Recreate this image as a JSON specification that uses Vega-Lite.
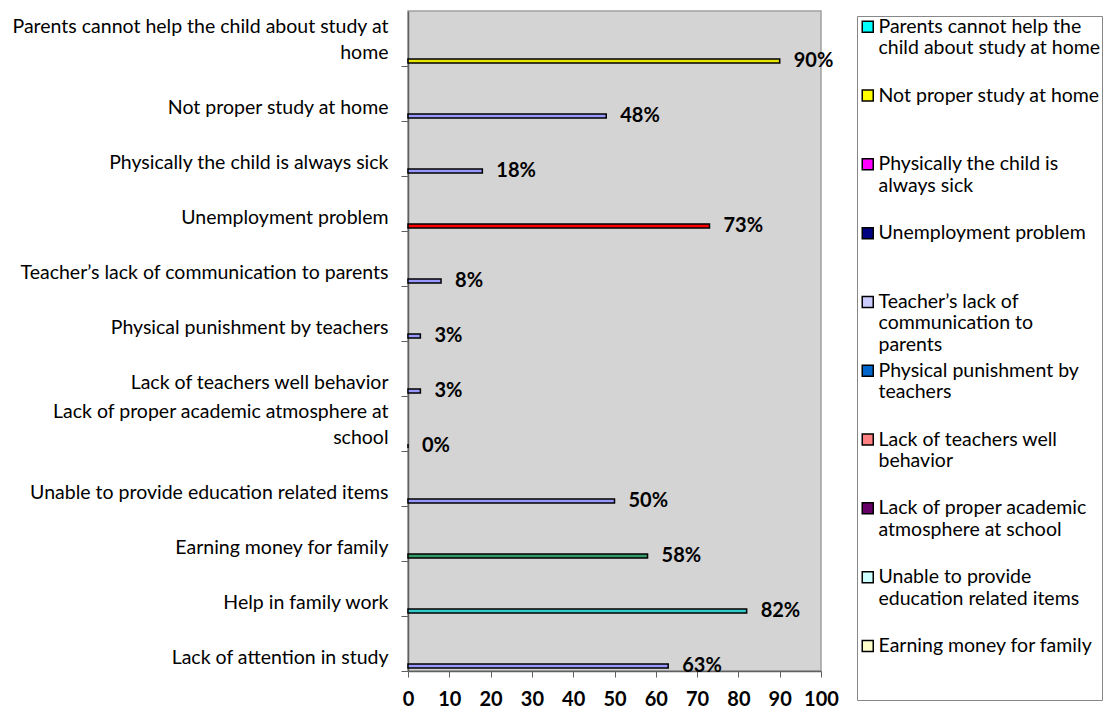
{
  "$schema": "https://vega.github.io/schema/vega-lite/v6.json",
  "autosize": "none",
  "padding": {"left": 408, "top": 11, "right": 285, "bottom": 38},
  "width": 413,
  "height": 660,
  "background": "white",
  "view": {"fill": "#d4d4d4", "stroke": "#a0a0a0", "strokeWidth": 1.5},
  "config": {
    "font": "Lato",
    "view": {"fill": "#d4d4d4", "stroke": "#a0a0a0", "strokeWidth": 1.5}
  },
  "datasets": {
    "bars": [
      {"category": "Parents cannot help the child about study at home", "value": 90, "label": "90%"},
      {"category": "Not proper study at home", "value": 48, "label": "48%"},
      {"category": "Physically the child is always sick", "value": 18, "label": "18%"},
      {"category": "Unemployment problem", "value": 73, "label": "73%"},
      {"category": "Teacher’s lack of communication to parents", "value": 8, "label": "8%"},
      {"category": "Physical punishment by teachers", "value": 3, "label": "3%"},
      {"category": "Lack of teachers well behavior", "value": 3, "label": "3%"},
      {"category": "Lack of proper academic atmosphere at school", "value": 0, "label": "0%"},
      {"category": "Unable to provide education related items", "value": 50, "label": "50%"},
      {"category": "Earning money for family", "value": 58, "label": "58%"},
      {"category": "Help in family work", "value": 82, "label": "82%"},
      {"category": "Lack of attention in study", "value": 63, "label": "63%"}
    ],
    "legend": [
      {"entry": "Parents cannot help the|child about study at home"},
      {"entry": "Not proper study at home"},
      {"entry": "Physically the child is|always sick"},
      {"entry": "Unemployment problem"},
      {"entry": "Teacher’s lack of|communication to|parents"},
      {"entry": "Physical punishment by|teachers"},
      {"entry": "Lack of teachers well|behavior"},
      {"entry": "Lack of proper academic|atmosphere at school"},
      {"entry": "Unable to provide|education related items"},
      {"entry": "Earning money for family"}
    ]
  },
  "layer": [
    {
      "data": {"name": "bars"},
      "mark": {"type": "bar", "height": 4, "yOffset": 22.5, "stroke": "black", "strokeWidth": 1.5},
      "encoding": {
        "y": {
          "field": "category",
          "type": "nominal",
          "sort": null,
          "scale": {"paddingInner": 0, "paddingOuter": 0},
          "axis": {
            "title": null,
            "bandPosition": 1,
            "tickSize": 7,
            "tickColor": "#606060",
            "domainColor": "#606060",
            "domainWidth": 1.5,
            "labelFont": "Lato",
            "labelFontSize": 19.5,
            "labelColor": "black",
            "labelBaseline": "bottom",
            "labelOffset": -1.5,
            "labelLineHeight": 25.5,
            "labelPadding": 13,
            "labelLimit": 500,
            "labelExpr": "datum.label == 'Parents cannot help the child about study at home' ? ['Parents cannot help the child about study at', 'home'] : datum.label == 'Lack of proper academic atmosphere at school' ? ['Lack of proper academic atmosphere at', 'school'] : ['', datum.label]"
          }
        },
        "x": {
          "field": "value",
          "type": "quantitative",
          "scale": {"domain": [0, 100], "nice": false},
          "axis": {
            "title": null,
            "values": [0, 10, 20, 30, 40, 50, 60, 70, 80, 90, 100],
            "labelOverlap": false,
            "labelFlush": false,
            "grid": false,
            "tickSize": 6,
            "tickColor": "#606060",
            "domainColor": "#606060",
            "domainWidth": 1.5,
            "labelFont": "Lato",
            "labelFontSize": 20,
            "labelFontWeight": "bold",
            "labelColor": "black",
            "labelPadding": 12
          }
        },
        "color": {
          "field": "category",
          "type": "nominal",
          "legend": null,
          "scale": {
            "domain": [
              "Parents cannot help the child about study at home",
              "Not proper study at home",
              "Physically the child is always sick",
              "Unemployment problem",
              "Teacher’s lack of communication to parents",
              "Physical punishment by teachers",
              "Lack of teachers well behavior",
              "Lack of proper academic atmosphere at school",
              "Unable to provide education related items",
              "Earning money for family",
              "Help in family work",
              "Lack of attention in study"
            ],
            "range": ["#E6E600", "#9999FF", "#9999FF", "#FF0000", "#9999FF", "#9999FF", "#9999FF", "#9999FF", "#9999FF", "#339966", "#33CCCC", "#9999FF"]
          }
        }
      }
    },
    {
      "data": {"name": "bars"},
      "mark": {"type": "text", "yOffset": 22.5, "dx": 14, "align": "left", "baseline": "middle", "font": "Lato", "fontSize": 20, "fontWeight": "bold", "color": "black"},
      "encoding": {
        "y": {"field": "category", "type": "nominal", "sort": null},
        "x": {"field": "value", "type": "quantitative"},
        "text": {"field": "label"}
      }
    },
    {
      "data": {"name": "legend"},
      "mark": {"type": "square", "size": 0, "opacity": 1},
      "encoding": {
        "fill": {
          "field": "entry",
          "type": "nominal",
          "scale": {
            "domain": [
              "Parents cannot help the|child about study at home",
              "Not proper study at home",
              "Physically the child is|always sick",
              "Unemployment problem",
              "Teacher’s lack of|communication to|parents",
              "Physical punishment by|teachers",
              "Lack of teachers well|behavior",
              "Lack of proper academic|atmosphere at school",
              "Unable to provide|education related items",
              "Earning money for family"
            ],
            "range": ["#00FFFF", "#FFFF00", "#FF00FF", "#000080", "#CCCCFF", "#0066CC", "#FF8080", "#660066", "#CCFFFF", "#FFFFCC"]
          },
          "legend": {
            "title": null,
            "orient": "none",
            "legendX": 449,
            "legendY": 5,
            "direction": "vertical",
            "strokeColor": "#888888",
            "padding": 1,
            "symbolType": "square",
            "symbolSize": 121,
            "symbolStrokeColor": "black",
            "symbolStrokeWidth": 1.5,
            "symbolOpacity": 1,
            "labelFont": "Lato",
            "labelFontSize": 19.5,
            "labelColor": "black",
            "labelLineHeight": 24.6,
            "labelBaseline": "top",
            "labelOffset": 1,
            "labelLimit": 400,
            "rowPadding": 4.8,
            "labelExpr": "slice(split(datum.label + '||', '|'), 0, 3)",
            "encode": {"labels": {"update": {"dy": {"value": -9}}}}
          }
        }
      }
    }
  ]
}
